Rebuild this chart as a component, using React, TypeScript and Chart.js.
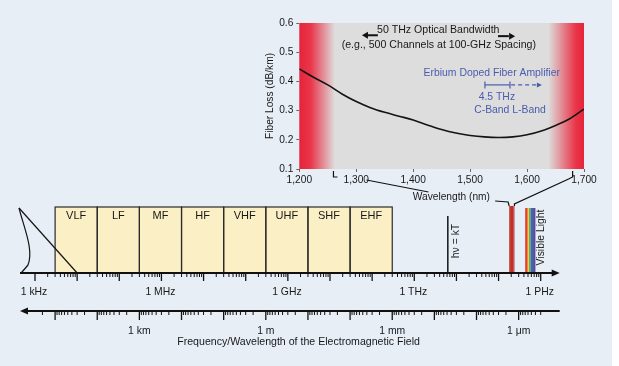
import React, { useEffect, useRef } from 'react';
import { Chart, registerables } from 'chart.js';

Chart.register(...registerables);

// ---------- data ----------
const LIGHT_SPEED = 2.998e8; // m/s

// inset: attenuation of silica fiber
const wavelengthNm = [1200, 1225, 1250, 1275, 1300, 1325, 1350, 1375, 1400, 1425, 1450, 1475, 1500, 1525, 1550, 1575, 1600, 1625, 1650, 1675, 1700];
const fiberLossDbKm = [0.443, 0.414, 0.388, 0.357, 0.331, 0.310, 0.294, 0.281, 0.268, 0.251, 0.235, 0.223, 0.215, 0.210, 0.208, 0.210, 0.217, 0.230, 0.249, 0.272, 0.305];
const wavelengthTicksNm = [1200, 1300, 1400, 1500, 1600, 1700];
const lossTicks = [0.1, 0.2, 0.3, 0.4, 0.5, 0.6];

// spectrum
const bandNames = ['VLF', 'LF', 'MF', 'HF', 'VHF', 'UHF', 'SHF', 'EHF'];
const bandEdgesHz = [3e3, 3e4, 3e5, 3e6, 3e7, 3e8, 3e9, 3e10, 3e11];
const freqLabels = ['1 kHz', '1 MHz', '1 GHz', '1 THz', '1 PHz'];
const freqLabelHz = [1e3, 1e6, 1e9, 1e12, 1e15];
const wavelengthLabels = ['1 km', '1 m', '1 mm', '1 μm'];
const wavelengthLabelM = [1e3, 1, 1e-3, 1e-6];
const fiberWindowNm = [1260, 1680];
const visibleEdgesNm = [700, 635, 595, 565, 520, 455, 400];
const visibleColors = ['#de3b36', '#ef8a2b', '#e6cd3a', '#5aac4a', '#3c68b2', '#5a4a9c'];
const thermalFreqHz = 6.25e12; // hν = kT at 300 K

const FONT = '"Liberation Sans", Arial, Helvetica, sans-serif';
const INSET_LEFT = 255;
const INSET_TOP = 12;
const BG = '#e8eef6';
const INK = '#181818';
const BLUE = '#4a5cad';

function text(ctx: CanvasRenderingContext2D, s: string, x: number, y: number, size: number, color = INK, align: CanvasTextAlign = 'center') {
  ctx.font = `${size}px ${FONT}`;
  ctx.fillStyle = color;
  ctx.textAlign = align;
  ctx.textBaseline = 'middle';
  ctx.fillText(s, x, y);
}

function arrowHead(ctx: CanvasRenderingContext2D, tipX: number, y: number, dir: number, len: number, half: number, color: string) {
  ctx.fillStyle = color;
  ctx.beginPath();
  ctx.moveTo(tipX, y);
  ctx.lineTo(tipX - dir * len, y - half);
  ctx.lineTo(tipX - dir * len, y + half);
  ctx.closePath();
  ctx.fill();
}

function line(ctx: CanvasRenderingContext2D, pts: number[][], width: number, color: string) {
  ctx.strokeStyle = color;
  ctx.lineWidth = width;
  ctx.beginPath();
  pts.forEach((p, i) => (i === 0 ? ctx.moveTo(p[0], p[1]) : ctx.lineTo(p[0], p[1])));
  ctx.stroke();
}

const insetPlugin = {
  id: 'insetDecor',
  beforeDatasetsDraw(chart: any) {
    const { ctx, chartArea: a } = chart;
    const g = ctx.createLinearGradient(a.left, 0, a.right, 0);
    g.addColorStop(0, '#e6233a');
    g.addColorStop(0.04, '#e9364a');
    g.addColorStop(0.125, '#dddddd');
    g.addColorStop(0.875, '#dddddd');
    g.addColorStop(0.97, '#e9364a');
    g.addColorStop(1, '#e6233a');
    ctx.save();
    ctx.fillStyle = g;
    ctx.fillRect(a.left, a.top, a.right - a.left, a.bottom - a.top);
    ctx.restore();
  },
  afterDraw(chart: any) {
    const { ctx, chartArea: a } = chart;
    const X = (v: number) => chart.scales.x.getPixelForValue(v);
    const Y = (v: number) => chart.scales.y.getPixelForValue(v);
    ctx.save();
    text(ctx, '50 THz Optical Bandwidth', X(1444), Y(0.576), 10.6);
    text(ctx, '(e.g., 500 Channels at 100-GHz Spacing)', X(1445), Y(0.525), 10.6);
    // bandwidth arrows
    line(ctx, [[X(1338), Y(0.558)], [X(1318), Y(0.558)]], 2, '#111');
    arrowHead(ctx, X(1310), Y(0.558), -1, 6, 3.5, '#111');
    line(ctx, [[X(1549), Y(0.555)], [X(1568), Y(0.555)]], 2, '#111');
    arrowHead(ctx, X(1579), Y(0.555), 1, 6, 3.5, '#111');
    // EDFA
    text(ctx, 'Erbium Doped Fiber Amplifier', X(1538), Y(0.429), 10.4, BLUE);
    const by = Y(0.388);
    line(ctx, [[X(1526), by], [X(1570), by]], 1.2, BLUE);
    line(ctx, [[X(1526), by - 3.5], [X(1526), by + 3.5]], 1.2, BLUE);
    line(ctx, [[X(1570), by - 3.5], [X(1570), by + 3.5]], 1.2, BLUE);
    ctx.setLineDash([4, 3]);
    line(ctx, [[X(1572), by], [X(1618), by]], 1.2, BLUE);
    ctx.setLineDash([]);
    arrowHead(ctx, X(1626), by, 1, 5, 2.5, BLUE);
    text(ctx, '4.5 THz', X(1547), Y(0.347), 10.4, BLUE);
    text(ctx, 'C-Band L-Band', X(1570), Y(0.302), 10.4, BLUE);
    // x-axis title
    text(ctx, 'Wavelength (nm)', X(1467), a.bottom + 28, 10.2);
    ctx.restore();
  },
};

function makeSpectrumPlugin(inset: any) {
  return {
    id: 'spectrumDecor',
    beforeDraw(chart: any) {
      const { ctx, width, height } = chart;
      ctx.save();
      ctx.fillStyle = '#ffffff';
      ctx.fillRect(0, 0, width, height);
      ctx.fillStyle = BG;
      ctx.fillRect(0, 0, 612, height);
      ctx.restore();
    },
    afterDraw(chart: any) {
      const { ctx } = chart;
      const X = (hz: number) => chart.scales.x.getPixelForValue(Math.log10(hz));
      const Y = (v: number) => chart.scales.y.getPixelForValue(v);
      const nmHz = (nm: number) => LIGHT_SPEED / (nm * 1e-9);
      ctx.save();
      const y0 = Y(0);

      // radio bands
      const bTop = Y(66);
      for (let i = 0; i < bandNames.length; i++) {
        const l = X(bandEdgesHz[i]);
        const r = X(bandEdgesHz[i + 1]);
        ctx.fillStyle = '#fbefc6';
        ctx.fillRect(l, bTop, r - l, y0 - bTop);
      }
      ctx.strokeStyle = '#2a2a2a';
      ctx.lineWidth = 1.2;
      for (let i = 0; i < bandNames.length; i++) {
        const l = X(bandEdgesHz[i]);
        const r = X(bandEdgesHz[i + 1]);
        ctx.strokeRect(l, bTop, r - l, y0 - bTop);
        text(ctx, bandNames[i], (l + r) / 2, Y(57), 11);
      }

      // low-frequency wave sketch
      const x0 = X(1e3) - 16;
      const t0 = Y(65);
      ctx.strokeStyle = '#151515';
      ctx.lineWidth = 1.2;
      ctx.beginPath();
      ctx.moveTo(x0, t0);
      ctx.bezierCurveTo(x0 + 5, t0 + 20, x0 + 15, t0 + 42, x0 + 9, t0 + 57);
      ctx.quadraticCurveTo(x0 + 4, t0 + 63, x0 + 2, y0);
      ctx.stroke();
      line(ctx, [[x0, t0], [X(1e4), y0]], 1.2, '#151515');

      // hν = kT
      const hx = X(thermalFreqHz);
      line(ctx, [[hx, Y(57)], [hx, y0]], 1.5, '#151515');
      ctx.save();
      ctx.translate(hx + 8.5, Y(32));
      ctx.rotate(-Math.PI / 2);
      text(ctx, 'hν = kT', 0, 0, 10.4);
      ctx.restore();

      // fiber window bar
      const fl = X(nmHz(fiberWindowNm[1]));
      const fr = X(nmHz(fiberWindowNm[0]));
      const ft = Y(67);
      const fw = fr - fl;
      ctx.fillStyle = '#b2452c';
      ctx.fillRect(fl, ft, fw * 0.35, y0 - ft);
      ctx.fillStyle = '#d3262b';
      ctx.fillRect(fl + fw * 0.35, ft, fw * 0.45, y0 - ft);
      ctx.fillStyle = '#a8302b';
      ctx.fillRect(fl + fw * 0.8, ft, fw * 0.2, y0 - ft);

      // visible light
      const vt = Y(65);
      for (let i = 0; i < visibleColors.length; i++) {
        const l = X(nmHz(visibleEdgesNm[i]));
        const r = X(nmHz(visibleEdgesNm[i + 1]));
        ctx.fillStyle = visibleColors[i];
        ctx.fillRect(l, vt, r - l, y0 - vt);
      }
      ctx.save();
      ctx.translate(X(nmHz(400)) + 6.2, Y(35.5));
      ctx.rotate(-Math.PI / 2);
      text(ctx, 'Visible Light', 0, 0, 10.4);
      ctx.restore();

      // frequency axis
      const fStart = X(1e3) - 15;
      const fEnd = X(1e15) + 19;
      line(ctx, [[fStart, y0], [fEnd - 6, y0]], 2, '#111');
      arrowHead(ctx, fEnd, y0, 1, 8, 3.5, '#111');
      for (let n = 3; n <= 15; n++) {
        const x = X(Math.pow(10, n));
        line(ctx, [[x, y0], [x, y0 + 8]], 1.3, '#111');
        if (n < 15) {
          for (let k = 2; k <= 9; k++) {
            const xm = X(k * Math.pow(10, n));
            line(ctx, [[xm, y0], [xm, y0 + 4]], 1, '#111');
          }
        }
      }
      freqLabels.forEach((s, i) => text(ctx, s, X(freqLabelHz[i]) - 1, Y(-19), 10.4));

      // wavelength axis
      const yw = Y(-38);
      line(ctx, [[fStart + 7, yw], [fEnd, yw]], 2, '#111');
      arrowHead(ctx, fStart, yw, -1, 8, 3.5, '#111');
      for (let m = 5; m >= -6; m--) {
        const x = X(LIGHT_SPEED / Math.pow(10, m));
        line(ctx, [[x, yw], [x, yw + 9]], 1.3, '#111');
      }
      for (let m = 5; m >= -7; m--) {
        for (let k = 2; k <= 9; k++) {
          const x = X(LIGHT_SPEED / (k * Math.pow(10, m)));
          if (x < 40 || x > 542) continue;
          line(ctx, [[x, yw], [x, yw + 4]], 1, '#111');
        }
      }
      wavelengthLabels.forEach((s, i) => text(ctx, s, X(LIGHT_SPEED / wavelengthLabelM[i]), Y(-58), 10.4));
      text(ctx, 'Frequency/Wavelength of the Electromagnetic Field', X(1.8e9), Y(-69), 10.6);

      // connectors from the inset to the fiber window
      const ix = (nm: number) => inset.scales.x.getPixelForValue(nm) + INSET_LEFT;
      const ib = inset.chartArea.bottom + INSET_TOP;
      const a = ix(fiberWindowNm[0]);
      const b = ix(fiberWindowNm[1]);
      line(ctx, [[a, ib + 2], [a, ib + 8], [a + 4, ib + 8]], 1.2, '#111');
      line(ctx, [[a + 33, ib + 11], [a + 95, ib + 23]], 1.2, '#111');
      line(ctx, [[fl - 14, ft - 5], [fl - 1, ft - 4], [fl, ft]], 1.2, '#111');
      line(ctx, [[b, ib + 2], [b, ib + 8], [b - 4, ib + 10], [fr, ft - 2], [fr, ft]], 1.2, '#111');

      ctx.restore();
    },
  };
}

export default function App() {
  const specRef = useRef<HTMLCanvasElement>(null);
  const insetRef = useRef<HTMLCanvasElement>(null);

  useEffect(() => {
    const tickFont = { family: FONT, size: 10.2 };
    const inset = new Chart(insetRef.current as HTMLCanvasElement, {
      type: 'line',
      data: {
        datasets: [
          {
            data: wavelengthNm.map((x, i) => ({ x, y: fiberLossDbKm[i] })),
            borderColor: '#141414',
            borderWidth: 1.6,
            pointRadius: 0,
            tension: 0.4,
            cubicInterpolationMode: 'monotone',
            fill: false,
          },
        ],
      },
      options: {
        animation: false,
        responsive: false,
        layout: { padding: { left: 0, top: 11, right: 16, bottom: 0 } },
        plugins: { legend: { display: false }, tooltip: { enabled: false } },
        scales: {
          x: {
            type: 'linear',
            min: 1200,
            max: 1700,
            afterBuildTicks: (s: any) => {
              s.ticks = wavelengthTicksNm.map((v) => ({ value: v }));
            },
            afterFit: (s: any) => {
              s.height = 41;
            },
            ticks: {
              font: tickFont,
              color: INK,
              padding: 2,
              maxRotation: 0,
              callback: (v: any) => Number(v).toLocaleString('en-US'),
            },
            grid: { display: true, drawOnChartArea: false, drawTicks: true, tickLength: 3, color: '#666' },
            border: { display: false },
          },
          y: {
            type: 'linear',
            min: 0.1,
            max: 0.6,
            afterBuildTicks: (s: any) => {
              s.ticks = lossTicks.map((v) => ({ value: v }));
            },
            afterFit: (s: any) => {
              s.width = 44.3;
            },
            ticks: {
              font: tickFont,
              color: INK,
              padding: 3,
              callback: (v: any) => Number(v).toFixed(1),
            },
            grid: { display: true, drawOnChartArea: false, drawTicks: true, tickLength: 3, color: '#666' },
            border: { display: false },
            title: {
              display: true,
              text: 'Fiber Loss (dB/km)',
              font: tickFont,
              color: INK,
              padding: { top: 9, bottom: 0 },
            },
          },
        },
      },
      plugins: [insetPlugin],
    } as any);

    const spec = new Chart(specRef.current as HTMLCanvasElement, {
      type: 'scatter',
      data: { datasets: [] },
      options: {
        animation: false,
        responsive: false,
        layout: { padding: 0 },
        plugins: { legend: { display: false }, tooltip: { enabled: false } },
        scales: {
          x: { type: 'linear', min: 2.1694, max: 16.858, display: false },
          y: { type: 'linear', min: -93, max: 273, display: false },
        },
      },
      plugins: [makeSpectrumPlugin(inset)],
    } as any);

    return () => {
      spec.destroy();
      inset.destroy();
    };
  }, []);

  return (
    <div style={{ position: 'fixed', left: 0, top: 0, width: 619, height: 366, background: '#fff', overflow: 'hidden' }}>
      <canvas ref={specRef} width={619} height={366} style={{ position: 'absolute', left: 0, top: 0 }} />
      <canvas ref={insetRef} width={345} height={198} style={{ position: 'absolute', left: INSET_LEFT, top: INSET_TOP }} />
    </div>
  );
}
